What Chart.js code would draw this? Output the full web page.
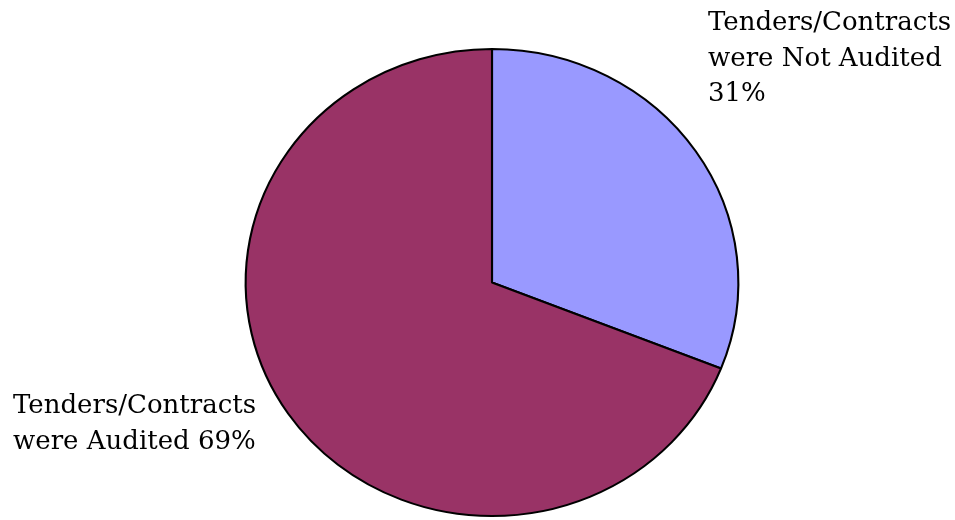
<!DOCTYPE html>
<html>
<head>
<meta charset="utf-8">
<script src="https://cdn.jsdelivr.net/npm/chart.js@4/dist/chart.umd.min.js"></script>
<style>
  html, body { margin: 0; padding: 0; background: #fff; }
  #wrap { width: 955px; height: 520px; position: relative; }
</style>
</head>
<body>
<div id="wrap"><canvas id="pieChart"></canvas></div>
<script>
const categories = ['Tenders/Contracts were Not Audited', 'Tenders/Contracts were Audited'];
const shares = [31, 69];
const sliceColors = ['#9999FF', '#993366'];

// label lines drawn beside each slice
const labelLines = [
    ['Tenders/Contracts', 'were Not Audited', shares[0] + '%'],
    ['Tenders/Contracts', 'were Audited ' + shares[1] + '%']
];

// the pie is a little wider than tall, so stretch it around its centre
const stretchPie = {
    id: 'stretchPie',
    beforeDatasetsDraw(chart, args, opts) {
        const a = chart.chartArea;
        const cx = (a.left + a.right) / 2;
        const cy = (a.top + a.bottom) / 2;
        const ctx = chart.ctx;
        ctx.save();
        ctx.translate(cx, cy);
        ctx.scale(opts.sx, 1);
        ctx.translate(-cx, -cy);
    },
    afterDatasetsDraw(chart) {
        chart.ctx.restore();
    }
};

const sliceLabels = {
    id: 'sliceLabels',
    afterDraw(chart, args, opts) {
        const ctx = chart.ctx;
        ctx.save();
        ctx.fillStyle = '#000';
        ctx.font = opts.font;
        ctx.textAlign = 'left';
        ctx.textBaseline = 'alphabetic';
        labelLines.forEach((lines, i) => {
            const pos = opts.anchors[i];
            lines.forEach((txt, j) => {
                ctx.fillText(txt, pos.x, pos.y + j * opts.lineHeight);
            });
        });
        ctx.restore();
    }
};

const ctx = document.getElementById('pieChart').getContext('2d');
window.myPie = new Chart(ctx, {
    type: 'pie',
    data: {
        labels: categories,
        datasets: [{
            data: shares,
            backgroundColor: sliceColors,
            borderColor: '#000',
            borderWidth: 2
        }]
    },
    options: {
        responsive: true,
        maintainAspectRatio: false,
        animation: false,
        layout: {
            padding: { top: 48, bottom: 3, left: 257, right: 228 }
        },
        plugins: {
            legend: { display: false },
            tooltip: { enabled: false },
            stretchPie: { sx: 1.055 },
            sliceLabels: {
                font: '26px "DejaVu Serif"',
                lineHeight: 35.5,
                anchors: [{ x: 708, y: 30 }, { x: 13, y: 413 }]
            }
        }
    },
    plugins: [stretchPie, sliceLabels]
});
</script>
</body>
</html>
